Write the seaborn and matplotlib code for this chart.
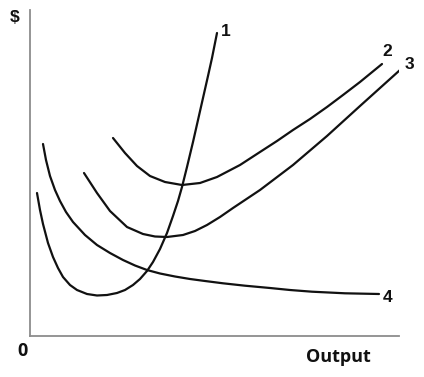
import matplotlib
matplotlib.use("Agg")
import matplotlib.pyplot as plt
import seaborn as sns
import pandas as pd

# Curve values (output, $)
c1_x = [7, 10, 13, 18, 23, 28, 33, 40, 47, 57, 67, 77, 87, 95, 103, 110, 117, 123,
        130, 137, 143, 148, 152, 157, 163, 168, 173, 178, 182, 187]
c1_y = [143, 126, 112, 93, 79, 68, 59, 51, 46, 42, 40.5, 41, 43, 46, 51, 57, 65, 74,
        87, 103, 120, 135, 149, 169, 194, 216, 238, 260, 278, 303]

c2_x = [83, 95, 107, 120, 135, 152, 170, 187, 210, 230, 247, 263, 280, 297, 313, 330, 352]
c2_y = [198, 183, 170, 160, 154, 151, 153, 159, 171, 184, 195, 206, 217, 229, 241, 254, 272]

c3_x = [54, 67, 80, 97, 113, 125, 137, 153, 165, 177, 190, 203, 230, 263, 297, 330, 370]
c3_y = [163, 143, 125, 109, 102, 99.5, 99, 101, 105, 111, 119, 128, 146, 171, 200, 230, 266]

c4_x = [13, 16, 20, 25, 30, 36, 43, 55, 67, 80, 93, 105, 117, 130, 145, 160, 175,
        193, 215, 240, 260, 282, 315, 349]
c4_y = [192, 176, 160, 146, 135, 124, 114, 101, 91, 83, 76, 70.5, 66, 62.5, 59.5, 57, 55,
        52.7, 50.3, 48, 46, 44.3, 42.7, 42]

labels = ["1", "2", "3", "4"]
label_x = [191, 352, 375, 353]
label_y = [304, 284.5, 271.5, 38.5]
axis_labels = ["$", "0", "Output"]

frames = []
for name, xs, ys in zip(labels, [c1_x, c2_x, c3_x, c4_x], [c1_y, c2_y, c3_y, c4_y]):
    frames.append(pd.DataFrame({"output": xs, "cost": ys, "curve": name}))
df = pd.concat(frames, ignore_index=True)

sns.set_theme(style="white")
plt.rcParams["font.family"] = ["Liberation Sans", "DejaVu Sans"]
plt.rcParams["lines.solid_joinstyle"] = "round"
plt.rcParams["lines.solid_capstyle"] = "round"

fig = plt.figure(figsize=(4.24, 3.77), dpi=100)
ax = fig.add_axes([30 / 424, 41 / 377, 369 / 424, 326 / 377])

for name in labels:
    sub = df[df["curve"] == name]
    sns.lineplot(data=sub, x="output", y="cost", ax=ax, color="#111111",
                 linewidth=1.6, sort=False, estimator=None, legend=False)

for lab, lx, ly in zip(labels, label_x, label_y):
    ax.text(lx, ly, lab, fontsize=12.5, fontweight="bold", color="#111111",
            ha="left", va="center")

ax.set_xlim(0, 369)
ax.set_ylim(0, 326)
ax.set_xticks([])
ax.set_yticks([])
ax.set_xlabel("")
ax.set_ylabel("")
for side in ["top", "right"]:
    ax.spines[side].set_visible(False)
for side in ["left", "bottom"]:
    ax.spines[side].set_color("#8c8c8c")
    ax.spines[side].set_linewidth(1.3)

fig.text(15 / 424, 1 - 18 / 377, axis_labels[0], fontsize=12.5, fontweight="bold",
         ha="center", va="center", color="#111111")
fig.text(22 / 424, 1 - 351 / 377, axis_labels[1], fontsize=13, fontweight="bold",
         ha="center", va="center", color="#111111", family=["Open Sans", "DejaVu Sans"])
fig.text(338.5 / 424, 1 - 357 / 377, axis_labels[2], fontsize=13, fontweight="bold",
         ha="center", va="center", color="#111111", family=["Open Sans", "DejaVu Sans"])

fig.savefig("out.png", dpi=100, facecolor="white")
